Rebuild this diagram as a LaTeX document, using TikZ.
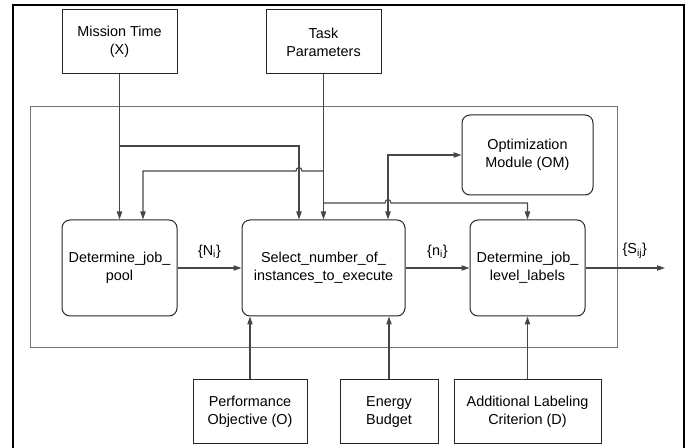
\documentclass[tikz,border=0pt]{standalone}
\usepackage{fontspec}
\setmainfont{Liberation Sans}
\usetikzlibrary{arrows.meta}
\begin{document}
\begin{tikzpicture}[x=0.75pt,y=-0.75pt,
  every node/.style={font=\fontsize{10.8pt}{13.5pt}\selectfont, align=center, inner sep=0pt},
  sqbox/.style={draw=black!85, line width=0.75pt, fill=white},
  rbox/.style={draw=black!85, line width=0.75pt, rounded corners=6pt, fill=white},
  conn/.style={draw=black!72, line width=0.85pt, -{Triangle[length=6pt,width=4pt]}},
  both/.style={draw=black!72, line width=0.85pt, {Triangle[length=6pt,width=4pt]}-{Triangle[length=6pt,width=4pt]}},
  lbl/.style={above=7pt}
]
\useasboundingbox (0,0) rectangle (697,448);
% outer frame
\draw[line width=2.2pt, black] (13,452) -- (13,5) -- (684,5) -- (684,452);
% inner frame
\node[draw=black!55, line width=0.75pt, minimum width=440.25pt, minimum height=180.75pt] (inner) at (323.5,227.5) {};
% boxes
\node[sqbox, minimum width=86.25pt, minimum height=48pt] (mission) at (119.5,42) {Mission Time\\(X)};
\node[sqbox, minimum width=86.25pt, minimum height=48pt] (task) at (323.5,42) {Task\\Parameters};
\node[rbox, minimum width=98.25pt, minimum height=60pt] (om) at (527.5,155) {Optimization\\Module (OM)};
\node[rbox, minimum width=86.25pt, minimum height=72pt] (pool) at (119.5,268) {Determine\_job\_\\pool};
\node[rbox, minimum width=122.25pt, minimum height=72pt] (select) at (323.5,268) {Select\_number\_of\_\\instances\_to\_execute};
\node[rbox, minimum width=86.25pt, minimum height=72pt] (labels) at (527.5,268) {Determine\_job\_\\level\_labels};
\node[sqbox, minimum width=85.5pt, minimum height=48pt] (perf) at (250,412) {Performance\\Objective (O)};
\node[sqbox, minimum width=73.5pt, minimum height=48pt] (energy) at (389,412) {Energy\\Budget};
\node[sqbox, minimum width=110.25pt, minimum height=48pt] (addl) at (527.5,412) {Additional Labeling\\Criterion (D)};
\coordinate (out) at (665,268);
% top inputs
\draw[conn] (mission.south) -- (mission.south |- pool.north);
\draw[conn] (mission.south |- 0,146) -- (299,146) -- (299,0 |- select.north);
\draw[conn] (task.south) -- (task.south |- select.north);
\draw[conn] (task.south |- 0,171) -- (302,171) .. controls (302,166.5) and (296,166.5) .. (296,171) -- (143,171) -- (143,0 |- pool.north);
\draw[conn] (task.south |- 0,203) -- (385,203) .. controls (385,198.5) and (391,198.5) .. (391,203) -- (labels.north |- 0,203) -- (labels.north);
% optimization module
\draw[both] (388,0 |- select.north) |- (om.west);
% main flow
\draw[conn] (pool.east) -- node[lbl] {\{N\textsubscript{i}\}} (select.west);
\draw[conn] (select.east) -- node[lbl] {\{n\textsubscript{i}\}} (labels.west);
\draw[conn] (labels.east) -- node[lbl, pos=0.62] {\{S\textsubscript{ij}\}} (out);
% bottom inputs
\draw[conn] (perf.north) -- (perf.north |- select.south);
\draw[conn] (energy.north) -- (energy.north |- select.south);
\draw[conn] (addl.north) -- (addl.north |- labels.south);
\end{tikzpicture}
\end{document}
